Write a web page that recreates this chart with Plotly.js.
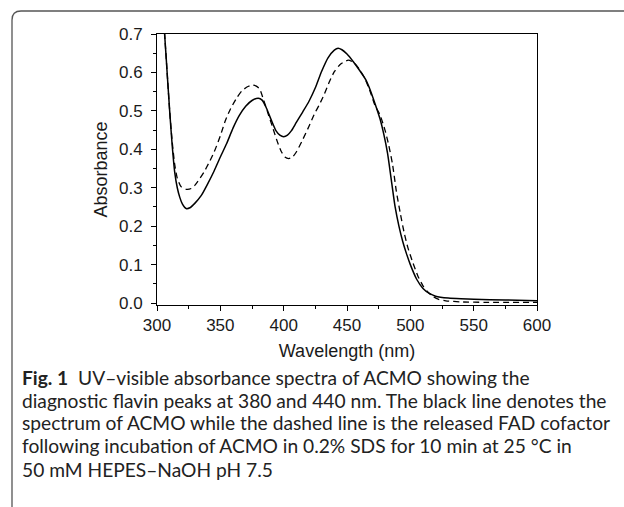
<!DOCTYPE html>
<html>
<head>
<meta charset="utf-8">
<script src="https://cdn.plot.ly/plotly-3.0.1.min.js"></script>
<style>html,body{margin:0;padding:0;background:#fff;}#chart{width:624px;height:507px;}</style>
</head>
<body>
<div id="chart"></div>
<script>
// ACMO spectrum (solid line)
const acmoWavelength = [304,306,308,310,312,314,316,318,320,323,326,330,335,340,345,350,355,360,365,370,375,380,383,386,390,394,397,400,403,406,410,415,420,425,430,435,440,443,446,450,455,460,465,468,472,476,479,482,485,488,491,494,497,500,505,510,515,520,530,540,550,575,600];
const acmoAbsorbance = [0.78,0.70,0.60,0.50,0.41,0.34,0.30,0.275,0.258,0.246,0.248,0.26,0.28,0.31,0.343,0.38,0.415,0.455,0.488,0.512,0.527,0.533,0.528,0.51,0.478,0.448,0.437,0.433,0.437,0.448,0.47,0.497,0.525,0.56,0.603,0.638,0.658,0.663,0.659,0.648,0.628,0.605,0.58,0.557,0.52,0.48,0.44,0.39,0.32,0.25,0.2,0.16,0.128,0.1,0.062,0.038,0.025,0.018,0.013,0.011,0.01,0.008,0.006];

// Released FAD cofactor (dashed line)
const fadWavelength = [304,306,308,310,312,314,316,319,323,327,330,334,337,341,345,350,354,358,363,367,371,375,378,381,384,387,391,395,398,401,404,407,410,415,420,424,428,432,436,440,445,451,456,460,464,468,472,476,480,483,486,489,492,495,498,502,506,510,514,518,522,528,540,560,600];
const fadAbsorbance = [0.78,0.70,0.60,0.50,0.42,0.36,0.325,0.303,0.296,0.298,0.307,0.325,0.34,0.365,0.392,0.435,0.475,0.505,0.534,0.552,0.562,0.567,0.565,0.557,0.53,0.5,0.46,0.42,0.395,0.38,0.376,0.38,0.393,0.425,0.46,0.49,0.515,0.543,0.575,0.602,0.622,0.632,0.624,0.607,0.585,0.553,0.515,0.49,0.45,0.41,0.36,0.29,0.235,0.185,0.145,0.105,0.07,0.045,0.028,0.017,0.01,0.006,0.003,0.002,0.002];

const xTickValues = [300,350,400,450,500,550,600];
const yTickValues = [0.0,0.1,0.2,0.3,0.4,0.5,0.6,0.7];

const captionLines = [
  "<b>Fig. 1</b>  UV–visible absorbance spectra of ACMO showing the",
  "diagnostic flavin peaks at 380 and 440 nm. The black line denotes the",
  "spectrum of ACMO while the dashed line is the released FAD cofactor",
  "following incubation of ACMO in 0.2% SDS for 10 min at 25 °C in",
  "50 mM HEPES–NaOH pH 7.5"
];

(function () {
  const W = 624, H = 507;
  const L = 157, R = 537, T = 34, B = 305;
  const pw = R - L, ph = B - T;
  const px2x = p => (p - L) / pw;
  const py2y = p => (B - p) / ph;

  const traces = [
    {x: acmoWavelength, y: acmoAbsorbance, mode: 'lines', type: 'scatter',
     line: {color: '#000', width: 1.5, shape: 'spline', smoothing: 0.6}, hoverinfo: 'skip'},
    {x: fadWavelength, y: fadAbsorbance, mode: 'lines', type: 'scatter',
     line: {color: '#000', width: 1.3, dash: '6px,4px', shape: 'spline', smoothing: 0.6}, hoverinfo: 'skip'}
  ];

  const axisFont = 'Liberation Sans, Arial, sans-serif';
  const tickFont = {family: axisFont, size: 17, color: '#1a1a1a'};

  const annotations = captionLines.map((t, i) => ({
    xref: 'paper', yref: 'paper', x: px2x(20), y: py2y(377 + i * 23),
    xanchor: 'left', yanchor: 'middle', showarrow: false, align: 'left',
    text: t, font: {family: 'Lato, Open Sans, sans-serif', size: 19.2, color: '#222'}
  }));

  const rad = 9;
  const bx0 = px2x(12), by0 = py2y(11), byb = py2y(H + 5), bxr = px2x(W + 5);
  const rx = rad / pw, ry = rad / ph;
  const boxPath = `M ${bx0},${byb} L ${bx0},${by0 - ry} Q ${bx0},${by0} ${bx0 + rx},${by0} L ${bxr},${by0}`;

  const layout = {
    width: W, height: H,
    margin: {l: L, r: W - R, t: T, b: H - B, pad: 0},
    paper_bgcolor: '#fff', plot_bgcolor: '#fff',
    showlegend: false,
    xaxis: {
      range: [300, 600], tickvals: xTickValues, ticks: 'outside', ticklen: 5, tickwidth: 1, tickcolor: '#000',
      showline: true, linecolor: '#000', linewidth: 1, mirror: true, showgrid: false, zeroline: false,
      tickfont: tickFont, ticklabelstandoff: 0,
      minor: {ticks: 'outside', ticklen: 3, dtick: 25, tickcolor: '#000', showgrid: false},
      title: {text: 'Wavelength (nm)', font: {family: axisFont, size: 18, color: '#1a1a1a'}, standoff: 9}
    },
    yaxis: {
      range: [-0.005, 0.7], tickvals: yTickValues, tickformat: '.1f', ticks: 'outside', ticklen: 5, tickwidth: 1, tickcolor: '#000',
      showline: true, linecolor: '#000', linewidth: 1, mirror: true, showgrid: false, zeroline: false,
      tickfont: tickFont, ticklabelstandoff: 5,
      minor: {ticks: 'outside', ticklen: 3, dtick: 0.05, tickcolor: '#000', showgrid: false},
      title: {text: 'Absorbance', font: {family: axisFont, size: 18, color: '#1a1a1a'}, standoff: 6}
    },
    shapes: [{type: 'path', xref: 'paper', yref: 'paper', path: boxPath, line: {color: '#555', width: 1.3}}],
    annotations: annotations
  };

  Plotly.newPlot('chart', traces, layout, {staticPlot: true, displayModeBar: false});
})();
</script>
</body>
</html>
